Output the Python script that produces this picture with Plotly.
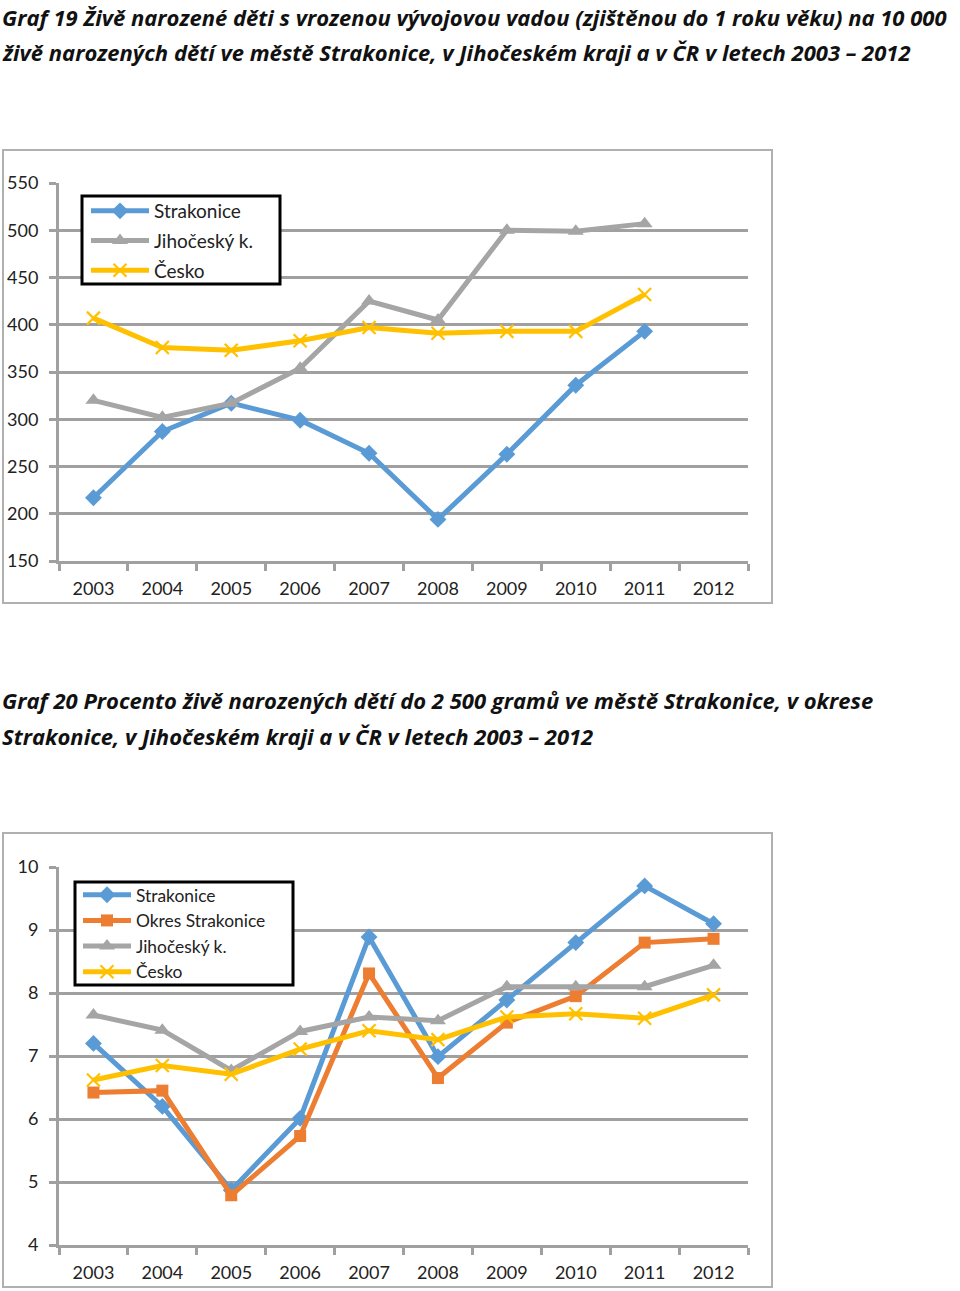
import plotly.graph_objects as go

years = ["2003", "2004", "2005", "2006", "2007", "2008", "2009", "2010", "2011", "2012"]

# Graf 19 - vrozene vady na 10 000 zive narozenych
vady_strakonice = [217, 287, 317, 299, 264, 194, 263, 336, 393, None]
vady_jihocesky = [320, 302, 317, 354, 425, 405, 500, 499, 507, None]
vady_cesko = [407, 376, 373, 383, 397, 391, 393, 393, 432, None]

# Graf 20 - procento zive narozenych do 2 500 g
nizka_strakonice = [7.20, 6.20, 4.87, 6.01, 8.89, 6.99, 7.89, 8.80, 9.70, 9.10]
nizka_okres = [6.42, 6.45, 4.79, 5.73, 8.31, 6.65, 7.53, 7.95, 8.80, 8.86]
nizka_jihocesky = [7.65, 7.41, 6.77, 7.39, 7.62, 7.56, 8.10, 8.10, 8.10, 8.44]
nizka_cesko = [6.62, 6.85, 6.71, 7.11, 7.40, 7.26, 7.62, 7.67, 7.60, 7.97]

W, H = 960, 1291
FONT = "Lato"
TITLE_FONT = "Open Sans"
BLUE, ORANGE, GRAY, YELLOW = "#5b9bd5", "#ed7d31", "#a5a5a5", "#ffc000"
GRID = "#a0a0a0"


def px_x(x):
    return x / W


def px_y(y):
    return 1 - y / H


def line(name, y, color, symbol, xa, ya, legend, group, size=10):
    marker = dict(symbol=symbol, size=size, color=color)
    if symbol == "x-thin":
        marker["line"] = dict(color=color, width=2.2)
    return go.Scatter(x=years, y=y, name=name, mode="lines+markers",
                      line=dict(color=color, width=5), marker=marker,
                      xaxis=xa, yaxis=ya, legend=legend, legendgroup=group,
                      connectgaps=False)


fig = go.Figure()
fig.add_trace(line("Strakonice", vady_strakonice, BLUE, "diamond", "x", "y", "legend", "a1", 13))
fig.add_trace(line("Jihočeský k.", vady_jihocesky, GRAY, "triangle-up", "x", "y", "legend", "a2", 14))
fig.add_trace(line("Česko", vady_cesko, YELLOW, "x-thin", "x", "y", "legend", "a3", 13))

fig.add_trace(line("Strakonice", nizka_strakonice, BLUE, "diamond", "x2", "y2", "legend2", "b1", 13))
fig.add_trace(line("Okres Strakonice", nizka_okres, ORANGE, "square", "x2", "y2", "legend2", "b2", 12))
fig.add_trace(line("Jihočeský k.", nizka_jihocesky, GRAY, "triangle-up", "x2", "y2", "legend2", "b3", 14))
fig.add_trace(line("Česko", nizka_cesko, YELLOW, "x-thin", "x2", "y2", "legend2", "b4", 13))

xdom = [px_x(59), px_x(748)]
xax = dict(type="category", domain=xdom, range=[-0.5, 9.5], tickson="boundaries",
           ticks="outside", ticklen=7, tickwidth=3, tickcolor=GRID, showline=True,
           linecolor=GRID, linewidth=3, showgrid=False, ticklabelstandoff=9,
           automargin=False, tickfont=dict(family=FONT, size=18, color="#222"),
           fixedrange=True)
yax = dict(showline=True, linecolor=GRID, linewidth=3, ticks="outside", ticklen=7,
           tickwidth=3, tickcolor=GRID, gridcolor=GRID, gridwidth=3, zeroline=False,
           ticklabelstandoff=7, automargin=False,
           tickfont=dict(family=FONT, size=18, color="#222"), fixedrange=True)

fig.update_layout(
    width=W, height=H, margin=dict(l=0, r=0, t=0, b=0, autoexpand=False),
    paper_bgcolor="white", plot_bgcolor="white",
    font=dict(family=FONT, color="#222"),
    xaxis=dict(xax, anchor="y"),
    yaxis=dict(yax, anchor="x", domain=[px_y(561), px_y(183)], range=[150, 550], dtick=50),
    xaxis2=dict(xax, anchor="y2"),
    yaxis2=dict(yax, anchor="x2", domain=[px_y(1245), px_y(867)], range=[4, 10], dtick=1),
    legend=dict(x=px_x(86), y=px_y(192), xanchor="left", yanchor="top",
                borderwidth=0, bgcolor="rgba(0,0,0,0)",
                font=dict(family=FONT, size=19, color="#222"), tracegroupgap=2,
                itemwidth=58),
    legend2=dict(x=px_x(78), y=px_y(877), xanchor="left", yanchor="top",
                 borderwidth=0, bgcolor="rgba(0,0,0,0)",
                 font=dict(family=FONT, size=17.4, color="#222"), tracegroupgap=0,
                 itemwidth=48),
    showlegend=True,
)

# ramecky grafu
for y0, y1 in [(150, 603), (833, 1287)]:
    fig.add_shape(type="rect", xref="paper", yref="paper",
                  x0=px_x(3), x1=px_x(772), y0=px_y(y1), y1=px_y(y0),
                  line=dict(color="#b0b0b0", width=2), layer="below")

# ramecky legend
for x0, x1, y0, y1 in [(82, 280, 196, 284), (75, 293, 882, 985)]:
    fig.add_shape(type="rect", xref="paper", yref="paper",
                  x0=px_x(x0), x1=px_x(x1), y0=px_y(y1), y1=px_y(y0),
                  line=dict(color="black", width=3), fillcolor="white", layer="above")

titles = [
    ("Graf 19 Živě narozené děti s vrozenou vývojovou vadou (zjištěnou do 1 roku věku) na 10 000", 17),
    ("živě narozených dětí ve městě Strakonice, v Jihočeském kraji a v ČR v letech 2003 – 2012", 52),
    ("Graf 20 Procento živě narozených dětí do 2 500 gramů ve městě Strakonice, v okrese", 700),
    ("Strakonice, v Jihočeském kraji a v ČR v letech 2003 – 2012", 736),
]
for text, y in titles:
    fig.add_annotation(text="<b><i>%s</i></b>" % text, xref="paper", yref="paper",
                       x=0, y=px_y(y), xanchor="left", yanchor="middle", showarrow=False,
                       font=dict(family=TITLE_FONT, size=22, color="#111"))

fig.write_html("out.html", config={"displayModeBar": False},
               post_script="document.body.style.margin='0';")
